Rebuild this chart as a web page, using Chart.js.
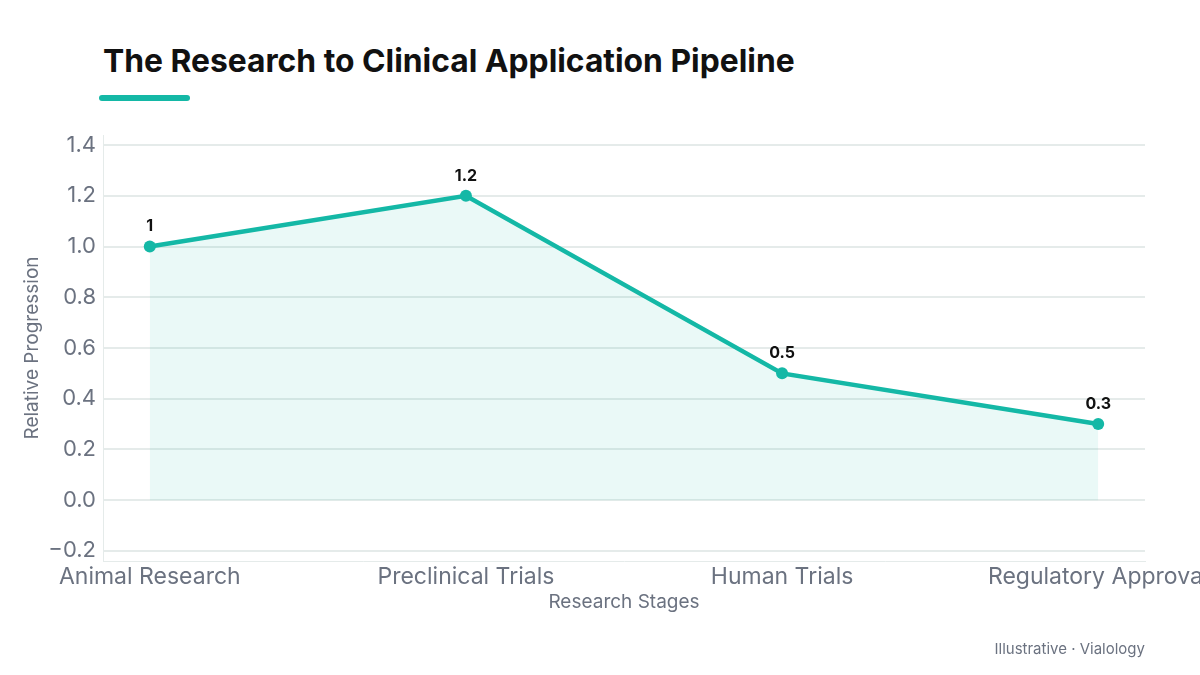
<!DOCTYPE html>
<html>
<head>
<meta charset="utf-8">
<script src="https://cdn.jsdelivr.net/npm/chart.js@4/dist/chart.umd.min.js"></script>
<style>
  html, body { margin: 0; padding: 0; width: 1200px; height: 675px; overflow: hidden; background: #ffffff; font-family: Inter, sans-serif; }
  #title { position: absolute; left: 103px; top: 42px; font: 700 31.8px/38px Inter, sans-serif; color: #111111; white-space: nowrap; }
  #bar { position: absolute; left: 99px; top: 95px; width: 91px; height: 6px; border-radius: 3px; background: #14b8a6; }
  #wrap { position: absolute; left: 0; top: 0; width: 1216px; height: 675px; }
  #footer { position: absolute; right: 55px; top: 640px; font: 400 15px/18px Inter, sans-serif; color: #6b7280; white-space: nowrap; }
</style>
</head>
<body>
<div id="title">The Research to Clinical Application Pipeline</div>
<div id="bar"></div>
<div id="wrap"><canvas id="c"></canvas></div>
<div id="footer">Illustrative · Vialology</div>
<script>
const categories = ["Animal Research", "Preclinical Trials", "Human Trials", "Regulatory Approval"];
const progression = [1, 1.2, 0.5, 0.3];
const yTickValues = [-0.2, 0, 0.2, 0.4, 0.6, 0.8, 1.0, 1.2, 1.4];

const teal = '#14b8a6';
const grey = '#6b7280';

const points = categories.map((c, i) => ({ x: i, y: progression[i] }));

const valueLabels = {
  id: 'valueLabels',
  afterDatasetsDraw(chart) {
    const ctx = chart.ctx;
    const meta = chart.getDatasetMeta(0);
    ctx.save();
    ctx.font = '700 16px Inter, sans-serif';
    ctx.fillStyle = '#111111';
    ctx.textAlign = 'center';
    ctx.textBaseline = 'bottom';
    meta.data.forEach((el, i) => {
      ctx.fillText(String(progression[i]), el.x, el.y - 12);
    });
    ctx.restore();
  }
};

new Chart(document.getElementById('c'), {
  type: 'line',
  data: {
    datasets: [{
      data: points,
      borderColor: teal,
      borderWidth: 4.5,
      backgroundColor: 'rgba(20,184,166,0.09)',
      fill: 'origin',
      pointRadius: 6,
      pointHoverRadius: 6,
      pointBackgroundColor: teal,
      pointBorderWidth: 0,
      tension: 0
    }]
  },
  options: {
    responsive: true,
    maintainAspectRatio: false,
    animation: false,
    layout: { padding: { left: 17, right: 71, top: 135, bottom: 57 } },
    plugins: { legend: { display: false }, tooltip: { enabled: false } },
    scales: {
      x: {
        type: 'linear',
        min: -0.148,
        max: 3.148,
        afterBuildTicks(scale) { scale.ticks = categories.map((c, i) => ({ value: i })); },
        afterFit(scale) { scale.height = 57; },
        ticks: {
          stepSize: 1,
          autoSkip: false,
          maxRotation: 0,
          padding: 2,
          color: grey,
          font: { family: 'Inter', size: 23 },
          callback: (v) => categories[v] ?? ''
        },
        grid: { display: false, drawTicks: false },
        border: { display: true, color: '#e5ebea', width: 1 },
        title: { display: true, text: 'Research Stages', color: grey, font: { family: 'Inter', size: 19 } }
      },
      y: {
        min: -0.24,
        max: 1.44,
        afterBuildTicks(scale) { scale.ticks = yTickValues.map(v => ({ value: v })); },
        afterFit(scale) { scale.width = 86; },
        ticks: {
          padding: 7,
          color: grey,
          font: { family: 'Inter', size: 22 },
          callback: (v) => (v < 0 ? '\u2212' + Math.abs(v).toFixed(1) : v.toFixed(1))
        },
        grid: { color: '#e5ebea', lineWidth: 2, drawTicks: false },
        border: { display: true, color: '#e5ebea', width: 1 },
        title: { display: true, text: 'Relative Progression', color: grey, font: { family: 'Inter', size: 19 } }
      }
    }
  },
  plugins: [valueLabels]
});
</script>
</body>
</html>
